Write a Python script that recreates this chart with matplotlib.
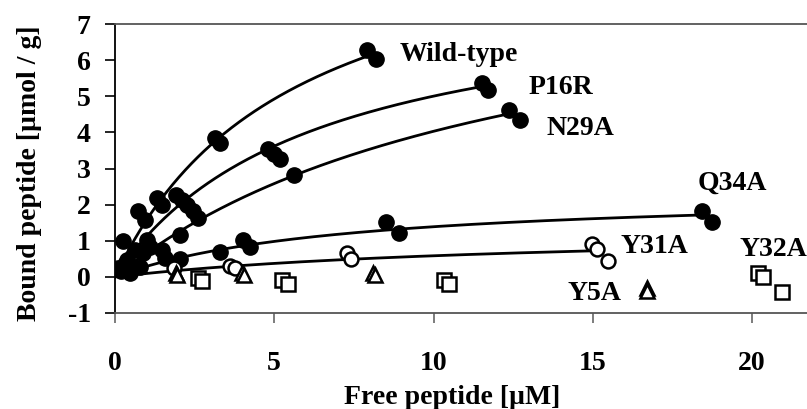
import numpy as np
import matplotlib
matplotlib.use("Agg")
import matplotlib.pyplot as plt

# ---- data ----
wt_x = [0.26, 0.37, 0.73, 0.94, 1.31, 1.49, 3.15, 3.30, 7.90, 8.19]
wt_y = [0.98, 0.47, 1.81, 1.58, 2.18, 1.99, 3.85, 3.70, 6.29, 6.03]

p16r_x = [0.30, 0.63, 1.00, 1.92, 2.09, 2.25, 4.80, 5.00, 5.18, 11.51, 11.72]
p16r_y = [0.35, 0.75, 1.02, 2.27, 2.13, 1.99, 3.55, 3.40, 3.27, 5.36, 5.18]

n29a_x = [0.50, 0.89, 1.10, 2.04, 2.46, 2.62, 5.62, 12.38, 12.72]
n29a_y = [0.30, 0.65, 0.84, 1.16, 1.81, 1.62, 2.82, 4.62, 4.33]

q34a_x = [0.10, 0.20, 0.47, 0.78, 1.47, 1.57, 2.04, 3.30, 4.03, 4.24, 8.51, 8.93, 18.42, 18.73]
q34a_y = [0.25, 0.15, 0.10, 0.28, 0.74, 0.51, 0.49, 0.70, 1.02, 0.84, 1.53, 1.21, 1.81, 1.53]

y31a_x = [1.85, 3.61, 3.77, 7.27, 7.41, 14.97, 15.12, 15.49]
y31a_y = [0.25, 0.30, 0.24, 0.67, 0.49, 0.90, 0.77, 0.44]

y5a_x = [1.90, 1.96, 4.00, 4.05, 8.11, 8.15, 16.69, 16.69]
y5a_y = [0.12, 0.06, 0.12, 0.06, 0.10, 0.04, -0.32, -0.38]

y32a_x = [2.60, 2.72, 5.23, 5.44, 10.33, 10.48, 20.20, 20.36, 20.93]
y32a_y = [-0.02, -0.12, -0.09, -0.20, -0.10, -0.20, 0.12, 0.00, -0.41]

# hyperbolic fit parameters (Bmax, Kd) and curve end for the drawn lines
fit_names = ["Wild-type", "P16R", "N29A", "Q34A", "Y31A"]
fit_bmax = [10.38, 8.10, 9.16, 2.37, 1.35]
fit_kd = [5.54, 6.19, 12.73, 7.07, 13.10]
fit_xend = [7.85, 11.40, 12.25, 18.30, 14.95]

labels = ["Wild-type", "P16R", "N29A", "Q34A", "Y31A", "Y32A", "Y5A"]
label_x = [8.95, 12.97, 13.56, 18.30, 15.86, 19.62, 14.22]
label_y = [6.15, 5.23, 4.12, 2.60, 0.83, 0.75, -0.45]

xticks = [0, 5, 10, 15, 20]
yticks = [-1, 0, 1, 2, 3, 4, 5, 6, 7]

# ---- figure ----
W, H = 807, 409
fig = plt.figure(figsize=(W / 100, H / 100), dpi=100)
ax = fig.add_axes([115 / W, (H - 313) / H, (W - 115) / W, (313 - 24) / H])
ax.set_xlim(0, (W - 115) / 31.85)
ax.set_ylim(-1, 7)

serif = ["Liberation Serif", "DejaVu Serif"]
fs = 20

for b, k, xe in zip(fit_bmax, fit_kd, fit_xend):
    xs = np.linspace(0, xe, 200)
    ax.plot(xs, b * xs / (k + xs), color="black", lw=2.0, zorder=2)

for xs, ys in [(wt_x, wt_y), (p16r_x, p16r_y), (n29a_x, n29a_y), (q34a_x, q34a_y)]:
    ax.plot(xs, ys, "o", ms=11, mfc="black", mec="black", mew=1.0, ls="none", zorder=3)

ax.plot(y31a_x, y31a_y, "o", ms=10, mfc="white", mec="black", mew=1.8, ls="none", zorder=3)
ax.plot(y5a_x, y5a_y, "^", ms=10, mfc="white", mec="black", mew=1.8, ls="none", zorder=3)
ax.plot(y32a_x, y32a_y, "s", ms=10, mfc="white", mec="black", mew=1.8, ls="none", zorder=3)

for t, lx, ly in zip(labels, label_x, label_y):
    ax.text(lx, ly, t, fontsize=fs, fontweight="bold", family=serif,
            ha="left", va="center", zorder=4)

ax.set_xticks(xticks)
ax.set_yticks(yticks)
ax.set_xticklabels([str(v) for v in xticks], fontsize=fs, fontweight="bold", family=serif)
ax.set_yticklabels([str(v) for v in yticks], fontsize=fs, fontweight="bold", family=serif)
ax.tick_params(axis="y", direction="out", length=7.5, width=1.2, color="black", pad=10)
ax.tick_params(axis="x", direction="out", length=7.5, width=1.2, color="#666666", pad=20)

ax.spines["right"].set_visible(False)
ax.spines["left"].set_color("black")
ax.spines["left"].set_linewidth(1.3)
for s in ["top", "bottom"]:
    ax.spines[s].set_color("#555555")
    ax.spines[s].set_linewidth(1.3)

fig.text(30 / W, 1 - 173 / H, "Bound peptide [µmol / g]", rotation=90,
         fontsize=fs, fontweight="bold", family=serif, ha="center", va="center")
fig.text(452 / W, 1 - 397 / H, "Free peptide [µM]",
         fontsize=fs, fontweight="bold", family=serif, ha="center", va="center")

fig.savefig("out.png", dpi=100)
